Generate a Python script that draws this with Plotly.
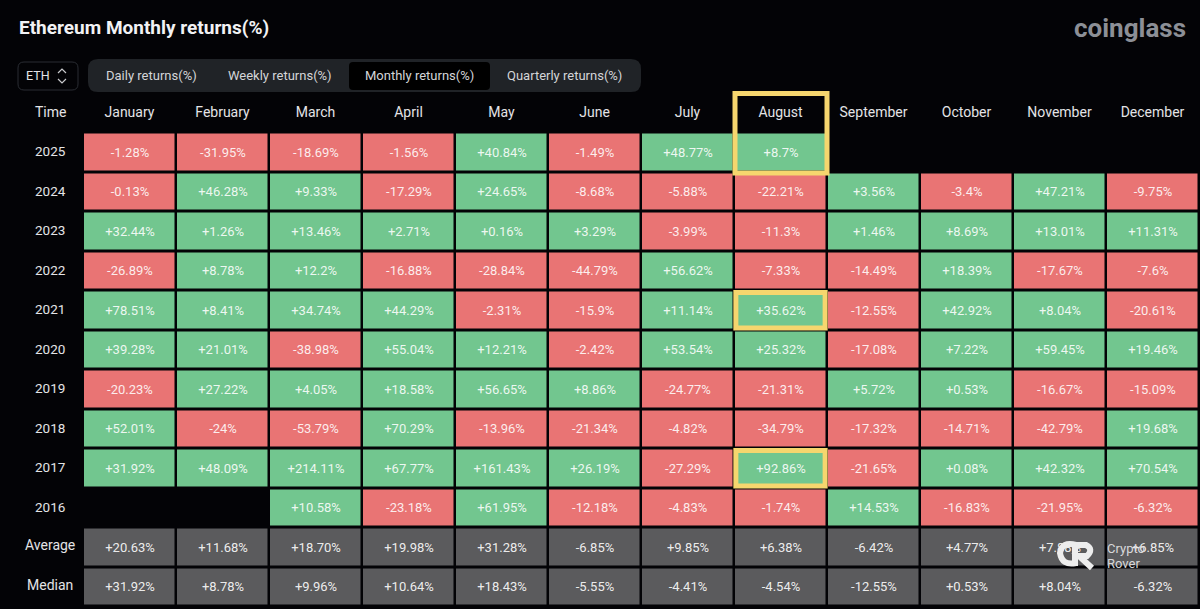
import plotly.graph_objects as go

months = ["January", "February", "March", "April", "May", "June", "July", "August",
          "September", "October", "November", "December"]
years = ["2025", "2024", "2023", "2022", "2021", "2020", "2019", "2018", "2017", "2016"]
summary = ["Average", "Median"]
tabs = ["Daily returns(%)", "Weekly returns(%)", "Monthly returns(%)", "Quarterly returns(%)"]

r2025 = ["-1.28%", "-31.95%", "-18.69%", "-1.56%", "+40.84%", "-1.49%", "+48.77%", "+8.7%", "", "", "", ""]
r2024 = ["-0.13%", "+46.28%", "+9.33%", "-17.29%", "+24.65%", "-8.68%", "-5.88%", "-22.21%", "+3.56%", "-3.4%", "+47.21%", "-9.75%"]
r2023 = ["+32.44%", "+1.26%", "+13.46%", "+2.71%", "+0.16%", "+3.29%", "-3.99%", "-11.3%", "+1.46%", "+8.69%", "+13.01%", "+11.31%"]
r2022 = ["-26.89%", "+8.78%", "+12.2%", "-16.88%", "-28.84%", "-44.79%", "+56.62%", "-7.33%", "-14.49%", "+18.39%", "-17.67%", "-7.6%"]
r2021 = ["+78.51%", "+8.41%", "+34.74%", "+44.29%", "-2.31%", "-15.9%", "+11.14%", "+35.62%", "-12.55%", "+42.92%", "+8.04%", "-20.61%"]
r2020 = ["+39.28%", "+21.01%", "-38.98%", "+55.04%", "+12.21%", "-2.42%", "+53.54%", "+25.32%", "-17.08%", "+7.22%", "+59.45%", "+19.46%"]
r2019 = ["-20.23%", "+27.22%", "+4.05%", "+18.58%", "+56.65%", "+8.86%", "-24.77%", "-21.31%", "+5.72%", "+0.53%", "-16.67%", "-15.09%"]
r2018 = ["+52.01%", "-24%", "-53.79%", "+70.29%", "-13.96%", "-21.34%", "-4.82%", "-34.79%", "-17.32%", "-14.71%", "-42.79%", "+19.68%"]
r2017 = ["+31.92%", "+48.09%", "+214.11%", "+67.77%", "+161.43%", "+26.19%", "-27.29%", "+92.86%", "-21.65%", "+0.08%", "+42.32%", "+70.54%"]
r2016 = ["", "", "+10.58%", "-23.18%", "+61.95%", "-12.18%", "-4.83%", "-1.74%", "+14.53%", "-16.83%", "-21.95%", "-6.32%"]
average = ["+20.63%", "+11.68%", "+18.70%", "+19.98%", "+31.28%", "-6.85%", "+9.85%", "+6.38%", "-6.42%", "+4.77%", "+7.88%", "+6.85%"]
median = ["+31.92%", "+8.78%", "+9.96%", "+10.64%", "+18.43%", "-5.55%", "-4.41%", "-4.54%", "-12.55%", "+0.53%", "+8.04%", "-6.32%"]

year_rows = [r2025, r2024, r2023, r2022, r2021, r2020, r2019, r2018, r2017, r2016]
summary_rows = [average, median]

BG = "#030306"
GREEN = "#72C68F"
RED = "#E97474"
GRAY = "#5B5B5D"
YELLOW = "#F6D66E"
FONT = "Roboto"


def num(s):
    return float(s.strip("%")) if s else None


# pixel helpers for the page furniture around the table
def px(x):
    return x / 1200


def py(y):
    return 1 - y / 609


def box(x0, y0, x1, y1, fill, line="rgba(0,0,0,0)", r=6):
    path = (f"M{px(x0 + r)},{py(y0)} L{px(x1 - r)},{py(y0)} Q{px(x1)},{py(y0)} {px(x1)},{py(y0 + r)} "
            f"L{px(x1)},{py(y1 - r)} Q{px(x1)},{py(y1)} {px(x1 - r)},{py(y1)} "
            f"L{px(x0 + r)},{py(y1)} Q{px(x0)},{py(y1)} {px(x0)},{py(y1 - r)} "
            f"L{px(x0)},{py(y0 + r)} Q{px(x0)},{py(y0)} {px(x0 + r)},{py(y0)} Z")
    return dict(type="path", xref="paper", yref="paper", path=path, fillcolor=fill,
                line=dict(color=line, width=1), layer="below")


def label(x, y, text, size=13.5, color="#E4E4E6", anchor="center", **kw):
    return dict(xref="paper", yref="paper", x=px(x), y=py(y), text=text, showarrow=False,
                xanchor=anchor, yanchor="middle", font=dict(family=FONT, size=size, color=color), **kw)


row_names = years + summary
year_pos = list(range(len(years)))
summary_pos = [len(years), len(years) + 1]

fig = go.Figure()
fig.add_trace(go.Heatmap(
    x=months, y=year_pos,
    z=[[num(v) for v in row] for row in year_rows],
    text=year_rows, texttemplate="%{text}",
    textfont=dict(family=FONT, size=13, color="rgba(255,255,255,0.88)"),
    colorscale=[[0, RED], [0.5, RED], [0.5, GREEN], [1, GREEN]],
    zmin=-300, zmax=300, showscale=False, xgap=2.5, ygap=3,
))
fig.add_trace(go.Heatmap(
    x=months, y=summary_pos,
    z=[[num(v) for v in row] for row in summary_rows],
    text=summary_rows, texttemplate="%{text}",
    textfont=dict(family=FONT, size=13, color="rgba(255,255,255,0.9)"),
    colorscale=[[0, GRAY], [1, GRAY]], showscale=False, xgap=2.5, ygap=3,
))

annotations = [
    label(17, 28, "<b>Ethereum Monthly returns(%)</b>", size=19, color="#F2F2F4", anchor="left"),
    label(1188, 28, "<b>coinglass</b>", size=26, color="#8C8F96", anchor="right"),
    label(38, 76, "ETH", size=12.5),
    label(50, 112, "Time", size=14),
]
for tab, cx in zip(tabs, [151, 280, 419, 564]):
    annotations.append(label(cx, 76, tab, size=13, color="#D4D5D8"))
for i, name in enumerate(row_names):
    shift = 2 if name in summary else 1
    annotations.append(dict(xref="paper", yref="y", x=px(50), y=i, text=name, showarrow=False, yshift=shift,
                            xanchor="center",
                            font=dict(family=FONT, size=14 if name in summary else 13.5, color="#E4E4E6")))
# watermark sits over the table
annotations += [
    label(1105, 548, "Crypto", size=13, color="#D8D8DA", anchor="left"),
    label(1105, 563, "Rover", size=13, color="#D8D8DA", anchor="left"),
]

shapes = [
    box(18, 62, 78, 90, BG, line="#2A2D33"),
    box(88, 59, 641, 92, "#202327", r=10),
    box(349, 62, 490, 90, "#000000", r=4),
    # chevrons of the ETH selector
    dict(type="path", xref="paper", yref="paper", line=dict(color="#C9CACD", width=1.2),
         path=f"M{px(58)},{py(73)} L{px(62)},{py(69)} L{px(66)},{py(73)}"),
    dict(type="path", xref="paper", yref="paper", line=dict(color="#C9CACD", width=1.2),
         path=f"M{px(58)},{py(79)} L{px(62)},{py(83)} L{px(66)},{py(79)}"),
    # yellow highlights
    dict(type="rect", xref="paper", yref="paper", x0=px(735), x1=px(827), y0=py(93.5), y1=py(173),
         line=dict(color=YELLOW, width=5)),
    dict(type="rect", xref="x", yref="y", x0=6.52, x1=7.48, y0=3.55, y1=4.45,
         line=dict(color=YELLOW, width=5)),
    dict(type="rect", xref="x", yref="y", x0=6.52, x1=7.48, y0=7.55, y1=8.45,
         line=dict(color=YELLOW, width=5)),
    # Crypto Rover watermark mark
    dict(type="path", xref="paper", yref="paper", line=dict(color="#EDEDED", width=6),
         path=f"M{px(1076)},{py(545)} Q{px(1062)},{py(541)} {px(1060)},{py(553)} Q{px(1062)},{py(566)} {px(1076)},{py(563)}"),
    dict(type="path", xref="paper", yref="paper", line=dict(color="#EDEDED", width=6),
         path=f"M{px(1075)},{py(566)} L{px(1075)},{py(545)} L{px(1086)},{py(545)} Q{px(1094)},{py(549)} {px(1087)},{py(556)} L{px(1079)},{py(556)} L{px(1092)},{py(568)}"),
]

fig.update_layout(
    width=1200, height=609,
    margin=dict(l=0, r=0, t=0, b=0),
    paper_bgcolor=BG, plot_bgcolor=BG,
    showlegend=False,
    annotations=annotations,
    shapes=shapes,
    xaxis=dict(domain=[px(83), px(1199)], side="top", type="category", categoryorder="array", categoryarray=months,
               range=[-0.5, 11.5], showgrid=False, zeroline=False, showline=False,
               ticks="outside", ticklen=9, tickcolor=BG,
               tickfont=dict(family=FONT, size=14, color="#E4E4E6")),
    yaxis=dict(domain=[py(606.5), py(132.5)], range=[11.5, -0.5], showgrid=False, zeroline=False,
               showline=False, showticklabels=False, ticks=""),
)

fig.write_html("out.html", config=dict(displayModeBar=False),
               post_script="document.body.style.margin='0';document.body.style.background='%s';" % BG)
